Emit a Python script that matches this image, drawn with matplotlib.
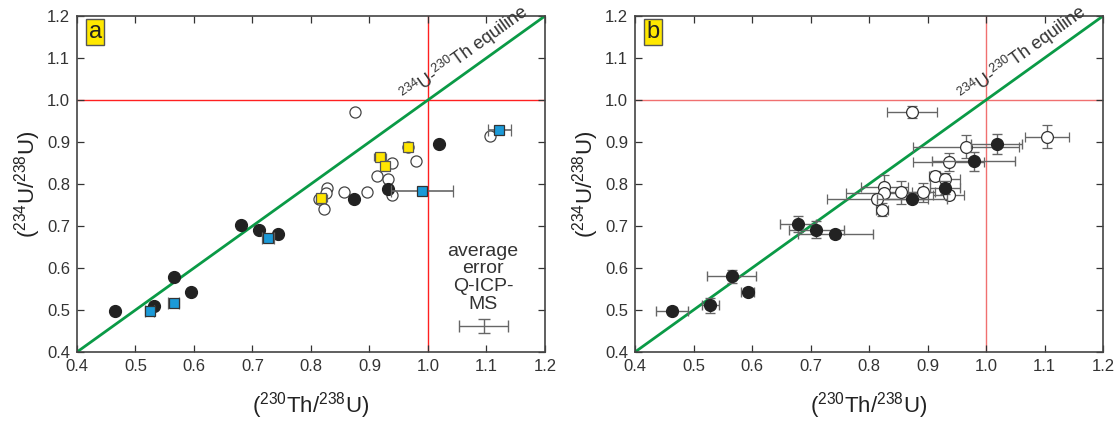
import matplotlib
matplotlib.use("Agg")
import matplotlib.pyplot as plt
import numpy as np

plt.rcParams["font.family"] = ["Liberation Sans", "DejaVu Sans"]
plt.rcParams["mathtext.fontset"] = "custom"
plt.rcParams["mathtext.rm"] = "Liberation Sans"

# ---- panel a: (230Th/238U, 234U/238U) ----
a_filled_x = [0.465, 0.532, 0.566, 0.595, 0.680, 0.712, 0.744, 0.874, 0.931, 1.019]
a_filled_y = [0.498, 0.510, 0.579, 0.543, 0.703, 0.690, 0.680, 0.764, 0.788, 0.895]
a_open_x = [0.875, 1.106, 0.980, 0.938, 0.913, 0.932, 0.827, 0.826, 0.856, 0.895,
            0.938, 0.823, 0.966, 0.814]
a_open_y = [0.971, 0.914, 0.855, 0.851, 0.820, 0.812, 0.791, 0.778, 0.780, 0.781,
            0.774, 0.740, 0.889, 0.764]
a_blue_x = [1.122, 0.990, 0.727, 0.565, 0.524]
a_blue_y = [0.929, 0.784, 0.671, 0.517, 0.498]
a_blue_xerr = [0.020, 0.053, 0.010, 0.010, 0.008]
a_yellow_x = [0.966, 0.918, 0.927, 0.818]
a_yellow_y = [0.887, 0.864, 0.844, 0.766]
a_yellow_xerr = [0.004, 0.010, 0.004, 0.010]
avg_err = (1.095, 0.462, 0.042, 0.016)   # x, y, xerr, yerr

# ---- panel b: same samples with individual errors ----
b_filled_x = [0.463, 0.529, 0.565, 0.593, 0.679, 0.710, 0.742, 0.873, 0.930, 0.979, 1.018]
b_filled_y = [0.498, 0.511, 0.580, 0.544, 0.705, 0.691, 0.680, 0.764, 0.791, 0.854, 0.895]
b_filled_xerr = [0.028, 0.015, 0.042, 0.011, 0.031, 0.047, 0.064, 0.060, 0.026, 0.071, 0.044]
b_filled_yerr = [0.008, 0.018, 0.015, 0.008, 0.019, 0.020, 0.008, 0.008, 0.015, 0.022, 0.023]
b_open_x = [0.873, 1.104, 0.966, 0.936, 0.912, 0.930, 0.826, 0.825, 0.855, 0.893,
            0.814, 0.822, 0.936]
b_open_y = [0.971, 0.913, 0.889, 0.852, 0.820, 0.811, 0.793, 0.778, 0.780, 0.780,
            0.764, 0.739, 0.774]
b_open_xerr = [0.043, 0.038, 0.090, 0.060, 0.010, 0.026, 0.040, 0.064, 0.030, 0.020,
               0.086, 0.010, 0.026]
b_open_yerr = [0.015, 0.027, 0.028, 0.022, 0.011, 0.014, 0.029, 0.010, 0.028, 0.022,
               0.010, 0.015, 0.010]

ticks = [0.4, 0.5, 0.6, 0.7, 0.8, 0.9, 1.0, 1.1, 1.2]
tick_labels = ["0.4", "0.5", "0.6", "0.7", "0.8", "0.9", "1.0", "1.1", "1.2"]

GREEN = "#0a9a46"
DARK = "#222222"
ERR = "#666666"

fig = plt.figure(figsize=(11.19, 4.28), dpi=100)
ax_a = fig.add_axes([0.0688, 0.1776, 0.4182, 0.785])
ax_b = fig.add_axes([0.5675, 0.1776, 0.4182, 0.785])


def setup(ax, label, red):
    ax.set_xlim(0.4, 1.2)
    ax.set_ylim(0.4, 1.2)
    ax.set_xticks(ticks)
    ax.set_xticklabels(tick_labels)
    ax.set_yticks(ticks)
    ax.set_yticklabels(tick_labels)
    ax.tick_params(direction="in", length=5, width=0.9, top=True, right=True,
                   labelsize=12, colors="#333333", pad=5)
    for s in ax.spines.values():
        s.set_color("#444444")
        s.set_linewidth(1.2)
    ax.axvline(1.0, color=red, lw=1.0, zorder=1)
    ax.axhline(1.0, color=red, lw=1.0, zorder=1)
    ax.plot([0.4, 1.2], [0.4, 1.2], color=GREEN, lw=2.0, zorder=2)
    ax.text(0.970, 0.980, r"$\mathregular{^{234}}$U-$\mathregular{^{230}}$Th equiline",
            rotation=35.7, rotation_mode="anchor", ha="left", va="bottom",
            fontsize=13, color="#333333")
    ax.text(0.025, 0.985, label, transform=ax.transAxes, fontsize=17, ha="left", va="top",
            color="#222222",
            bbox=dict(boxstyle="square,pad=0.1", fc="#ffe800", ec="#555555", lw=1))
    ax.set_xlabel(r"($\mathregular{^{230}}$Th/$\mathregular{^{238}}$U)", fontsize=16,
                  labelpad=12, color="#222222")
    ax.set_ylabel(r"($\mathregular{^{234}}$U/$\mathregular{^{238}}$U)", fontsize=16,
                  labelpad=3, color="#222222")


setup(ax_a, "a", "#ff2020")
setup(ax_b, "b", "#f07070")

# panel a
ax_a.plot(a_open_x, a_open_y, "o", ms=8, mfc="white", mec="#444444", mew=0.9, zorder=3)
ax_a.plot(a_filled_x, a_filled_y, "o", ms=8.5, mfc=DARK, mec=DARK, zorder=4)
ax_a.errorbar(a_yellow_x, a_yellow_y, xerr=a_yellow_xerr, fmt="s", ms=7.5,
              mfc="#ffe600", mec="#555555", mew=0.9, ecolor=ERR, elinewidth=1,
              capsize=3, zorder=5)
ax_a.errorbar(a_blue_x, a_blue_y, xerr=a_blue_xerr, fmt="s", ms=7.5,
              mfc="#1b9ad8", mec="#333333", mew=0.9, ecolor=ERR, elinewidth=1.2,
              capsize=4, zorder=5)
ax_a.errorbar([avg_err[0]], [avg_err[1]], xerr=[avg_err[2]], yerr=[avg_err[3]],
              fmt="none", ecolor=ERR, elinewidth=1, capsize=4, zorder=5)
ax_a.text(1.094, 0.660, "average\nerror\nQ-ICP-\nMS", ha="center", va="top",
          fontsize=14, color="#333333", linespacing=1.05)

# panel b
ax_b.errorbar(b_open_x, b_open_y, xerr=b_open_xerr, yerr=b_open_yerr, fmt="o", ms=8.5,
              mfc="white", mec="#333333", mew=0.9, ecolor=ERR, elinewidth=1,
              capsize=3.5, zorder=3)
ax_b.errorbar(b_filled_x, b_filled_y, xerr=b_filled_xerr, yerr=b_filled_yerr, fmt="o",
              ms=8.5, mfc=DARK, mec=DARK, ecolor=ERR, elinewidth=1, capsize=3.5,
              zorder=4)

fig.savefig("out.png", dpi=100, facecolor="white")
